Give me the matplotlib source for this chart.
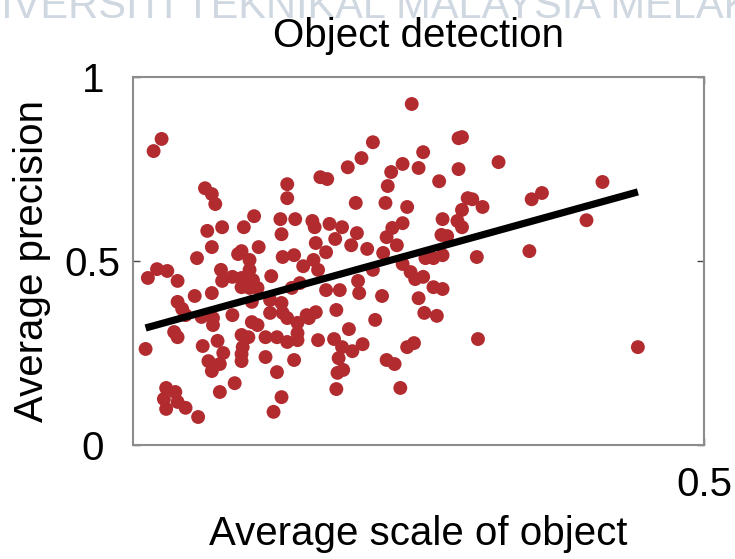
import numpy as np
import matplotlib
matplotlib.use("Agg")
import matplotlib.pyplot as plt

plt.rcParams['font.family'] = ['Liberation Sans', 'DejaVu Sans']

# Data
scale = [0.025, 0.018, 0.063, 0.069, 0.072, 0.135, 0.135, 0.106, 0.129, 0.142,
         0.065, 0.078, 0.097, 0.130, 0.069, 0.095, 0.092, 0.110, 0.056, 0.102,
         0.131, 0.141, 0.244, 0.210, 0.200, 0.188, 0.164, 0.170, 0.254, 0.285,
         0.288, 0.236, 0.226, 0.250, 0.223, 0.268, 0.285, 0.195, 0.221, 0.240,
         0.293, 0.288, 0.271, 0.284, 0.288, 0.157, 0.159, 0.172, 0.183, 0.236,
         0.227, 0.222, 0.196, 0.177, 0.270, 0.160, 0.191, 0.205, 0.231, 0.169,
         0.219, 0.271, 0.263, 0.256, 0.158, 0.320, 0.411, 0.358, 0.349, 0.297,
         0.306, 0.397, 0.347, 0.301, 0.275, 0.021, 0.030, 0.013, 0.039, 0.077,
         0.087, 0.078, 0.095, 0.102, 0.105, 0.121, 0.149, 0.054, 0.069, 0.095,
         0.102, 0.109, 0.146, 0.139, 0.039, 0.043, 0.046, 0.060, 0.070, 0.087,
         0.104, 0.120, 0.130, 0.120, 0.131, 0.070, 0.104, 0.109, 0.135, 0.144,
         0.036, 0.039, 0.095, 0.101, 0.116, 0.126, 0.135, 0.144, 0.144, 0.011,
         0.074, 0.061, 0.096, 0.079, 0.095, 0.066, 0.070, 0.076, 0.069, 0.095,
         0.116, 0.141, 0.126, 0.029, 0.037, 0.027, 0.039, 0.029, 0.046, 0.089,
         0.076, 0.130, 0.123, 0.057, 0.162, 0.236, 0.243, 0.247, 0.254, 0.210,
         0.197, 0.198, 0.169, 0.181, 0.218, 0.250, 0.263, 0.271, 0.178, 0.160,
         0.152, 0.154, 0.255, 0.266, 0.212, 0.189, 0.162, 0.176, 0.183, 0.192,
         0.201, 0.180, 0.240, 0.246, 0.222, 0.229, 0.184, 0.179, 0.234, 0.178,
         0.302, 0.442]
precision = [0.832, 0.799, 0.698, 0.682, 0.655, 0.709, 0.671, 0.622, 0.614, 0.614,
             0.582, 0.592, 0.592, 0.573, 0.538, 0.527, 0.519, 0.538, 0.508, 0.503,
             0.511, 0.516, 0.927, 0.823, 0.780, 0.755, 0.728, 0.723, 0.796, 0.834,
             0.837, 0.764, 0.742, 0.753, 0.704, 0.717, 0.750, 0.658, 0.658, 0.647,
             0.671, 0.639, 0.614, 0.609, 0.592, 0.609, 0.592, 0.601, 0.592, 0.603,
             0.590, 0.565, 0.576, 0.560, 0.571, 0.549, 0.543, 0.533, 0.543, 0.524,
             0.522, 0.516, 0.508, 0.508, 0.503, 0.769, 0.715, 0.685, 0.668, 0.668,
             0.647, 0.611, 0.527, 0.511, 0.568, 0.478, 0.473, 0.454, 0.446, 0.476,
             0.457, 0.446, 0.454, 0.476, 0.448, 0.459, 0.486, 0.405, 0.413, 0.429,
             0.427, 0.427, 0.440, 0.427, 0.389, 0.370, 0.353, 0.348, 0.345, 0.353,
             0.389, 0.394, 0.386, 0.359, 0.359, 0.326, 0.334, 0.326, 0.345, 0.332,
             0.307, 0.293, 0.299, 0.293, 0.293, 0.293, 0.280, 0.304, 0.285, 0.261,
             0.283, 0.269, 0.266, 0.250, 0.247, 0.228, 0.217, 0.220, 0.201, 0.228,
             0.239, 0.231, 0.198, 0.155, 0.144, 0.125, 0.117, 0.098, 0.101, 0.168,
             0.144, 0.130, 0.090, 0.076, 0.476, 0.492, 0.470, 0.451, 0.457, 0.476,
             0.446, 0.413, 0.421, 0.421, 0.405, 0.399, 0.429, 0.424, 0.367, 0.361,
             0.353, 0.345, 0.359, 0.351, 0.340, 0.315, 0.285, 0.288, 0.266, 0.255,
             0.274, 0.236, 0.266, 0.277, 0.231, 0.220, 0.204, 0.196, 0.155, 0.152,
             0.288, 0.266]

# fitted trend line endpoints
trend_x = [0.011, 0.442]
trend_y = [0.318, 0.688]

fig = plt.figure(figsize=(7.35, 5.59), dpi=100)
ax = fig.add_axes([0.181, 0.204, 0.777, 0.658])

ax.scatter(scale, precision, s=100, color='#b22b2f', edgecolors='none', zorder=2)
ax.plot(trend_x, trend_y, color='black', lw=5.2, solid_capstyle='butt', zorder=3)

ax.set_xlim(0, 0.5)
ax.set_ylim(0, 1)
ax.set_xticks([0.5])
ax.set_xticklabels(['0.5'])
ax.set_yticks([0, 0.5, 1])
ax.set_yticklabels(['0', '0.5', '1'])
ax.tick_params(direction='in', length=5, width=1, color='#444444',
               labelsize=29, right=True, top=True)
ax.tick_params(axis='x', pad=15)
ax.tick_params(axis='y', pad=29)
for lbl in ax.get_yticklabels():
    lbl.set_horizontalalignment('center')
for s in ax.spines.values():
    s.set_color('#8c8c8c')
    s.set_linewidth(1.5)

ax.set_title('Object detection', fontsize=29, pad=22)
ax.set_xlabel('Average scale of object', fontsize=29, labelpad=8)
ax.set_ylabel('Average precision', fontsize=29, labelpad=10)

# faint watermark at the top of the scan
fig.text(0.49, 1 - 18 / 559, 'UNIVERSITI TEKNIKAL MALAYSIA MELAKA', fontsize=30,
         color='#cfd7e1', ha='center', va='baseline', zorder=-1)

fig.savefig('out.png', dpi=100)
